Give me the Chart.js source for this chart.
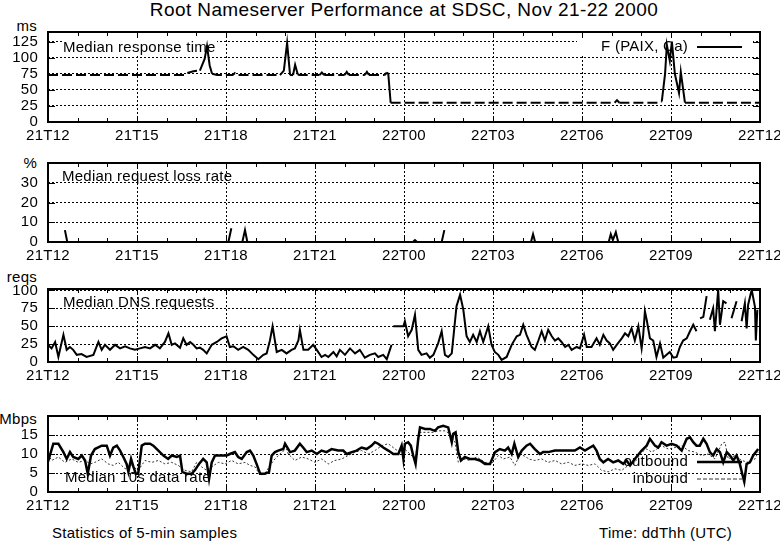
<!DOCTYPE html>
<html>
<head>
<meta charset="utf-8">
<script src="https://cdn.jsdelivr.net/npm/chart.js@4.4.0/dist/chart.umd.min.js"></script>
<style>
  body { margin: 0; background: #fff; }
  #wrap { position: relative; width: 780px; height: 542px; overflow: hidden;
          font-family: "Liberation Sans", Arial, sans-serif; color: #000; }
  canvas { position: absolute; left: 0; }
  .txt { position: absolute; white-space: nowrap; font-size: 15px; line-height: 15px; letter-spacing: 0.25px; }
</style>
</head>
<body>
<div id="wrap">
  <div class="txt" id="titulo" style="top:0px; left:404px; transform:translateX(-50%); font-size:19px; line-height:19px; letter-spacing:0.4px;">Root Nameserver Performance at SDSC, Nov 21-22 2000</div>
  <div class="txt" style="top:18px; right:743px;">ms</div>
  <div class="txt" style="top:155px; right:743px;">%</div>
  <div class="txt" style="top:269px; right:743px;">reqs</div>
  <div class="txt" style="top:411px; right:743px;">Mbps</div>
  <div class="txt" style="top:525px; left:52px;">Statistics of 5-min samples</div>
  <div class="txt" style="top:525px; right:48px;">Time: ddThh (UTC)</div>
  <canvas id="c1" width="780" height="120" style="top:22px"></canvas>
  <canvas id="c2" width="780" height="109" style="top:153px"></canvas>
  <canvas id="c3" width="780" height="103" style="top:279px"></canvas>
  <canvas id="c4" width="780" height="106" style="top:406px"></canvas>
</div>
<script>
// eje de tiempo: horas desde 21T12
const TICK_LABELS = ["21T12", "21T15", "21T18", "21T21", "22T00", "22T03", "22T06", "22T09", "22T12"];

const Y_TICKS_RESP = [0, 25, 50, 75, 100, 125];
const Y_TICKS_LOSS = [0, 10, 20, 30];
const Y_TICKS_DNS = [0, 25, 50, 75, 100];
const Y_TICKS_RATE = [0, 5, 10, 15];

// Median response time (ms)
const respT = [0, 4.60, 4.68, 4.90, 5.12, 5.28, 5.36, 5.45, 5.53, 5.70, 6.22, 6.30, 6.38, 7.82, 7.95, 8.06, 8.16, 8.26, 8.33,
  8.42, 8.49, 9.15, 9.23, 9.31, 10.00, 10.07, 10.14, 10.68, 10.75, 10.82, 11.35, 11.42, 11.47, 11.55, 19.10, 19.18,
  19.26, 20.62, 20.69, 20.80, 20.86, 20.96, 21.03, 21.13, 21.27, 21.33, 21.47, 24];
const respMs = [73, 73, 76, 79, 80, 98, 118, 88, 75, 73, 73, 76, 73, 73, 80, 123, 73, 73, 89,
  74, 73, 73, 77, 73, 73, 78, 73, 73, 78, 73, 73, 77, 75, 30, 30, 34,
  30, 30, 32, 75, 120, 95, 125, 75, 45, 78, 30, 30];

// Median request loss rate (%)
const lossT = [0, 0.50, 0.57, 0.65, 6.08, 6.18, 6.20, 6.55, 6.64, 6.72, 12.30, 12.37, 12.44, 13.27, 13.36, 13.38,
  16.28, 16.35, 16.42, 18.90, 18.97, 19.04, 19.14, 19.22, 24];
const lossPct = [0, null, 6, 0, 0, 7, null, 0, 6, 0, 0, 1, 0, 0, 6, null,
  0, 4, 0, 0, 4, 1, 5, 0, 0];

// Median DNS requests (reqs)
const dnsT = [0, 0.12, 0.24, 0.35, 0.52, 0.63, 0.74, 0.85, 0.97, 1.13, 1.30, 1.53, 1.70, 1.81, 1.92, 2.09, 2.26, 2.43,
  2.60, 2.76, 2.93, 3.10, 3.27, 3.44, 3.61, 3.77, 3.94, 4.06, 4.17, 4.28, 4.45, 4.56, 4.67, 4.79, 4.90, 5.01, 5.12,
  5.23, 5.35, 5.52, 5.69, 5.85, 6.02, 6.13, 6.25, 6.41, 6.58, 6.75, 6.92, 7.09, 7.26, 7.37, 7.48, 7.57, 7.71, 7.88,
  8.04, 8.21, 8.32, 8.44, 8.49, 8.61, 8.77, 8.94, 9.06, 9.22, 9.34, 9.45, 9.62, 9.73, 9.84, 10.01, 10.18, 10.35,
  10.51, 10.68, 10.85, 11.02, 11.13, 11.30, 11.42, 11.58, 11.61, 11.64, 11.98, 12.03, 12.14, 12.26, 12.37, 12.48,
  12.59, 12.76, 12.87, 12.99, 13.15, 13.27, 13.38, 13.49, 13.61, 13.77, 13.89, 14.00, 14.11, 14.22, 14.33, 14.45,
  14.56, 14.67, 14.84, 14.95, 15.06, 15.18, 15.29, 15.46, 15.63, 15.80, 15.91, 16.02, 16.13, 16.30, 16.41, 16.53,
  16.64, 16.75, 16.86, 16.98, 17.09, 17.20, 17.31, 17.43, 17.54, 17.65, 17.82, 17.93, 18.07, 18.16, 18.32, 18.49,
  18.60, 18.72, 18.83, 18.94, 19.05, 19.17, 19.34, 19.45, 19.56, 19.67, 19.78, 19.90, 20.01, 20.06, 20.12, 20.18,
  20.29, 20.40, 20.51, 20.63, 20.74, 20.85, 20.96, 21.08, 21.19, 21.30, 21.41, 21.53, 21.64, 21.75, 21.86, 21.92,
  21.98, 22.09, 22.20, 22.25, 22.31, 22.42, 22.48, 22.59, 22.65, 22.76, 22.87, 22.95, 23.04, 23.21, 23.30, 23.38,
  23.49, 23.55, 23.60, 23.72, 23.83, 23.86, 23.91];
const dnsReqs = [24, 19, 28, 7, 38, 17, 21, 17, 10, 11, 7, 10, 28, 17, 24, 17, 24, 19,
  22, 19, 17, 19, 21, 19, 24, 19, 28, 40, 24, 26, 20, 33, 24, 28, 24, 19, 20,
  17, 12, 24, 28, 33, 36, 21, 22, 17, 21, 17, 10, 4, 10, 12, 30, 50, 14, 17,
  12, 17, 19, 30, 45, 17, 17, 24, 17, 7, 10, 7, 14, 8, 17, 10, 19, 12,
  17, 6, 10, 12, 7, 10, 4, 24, null, 50, 50, 57, 36, 45, 66, 17,
  10, 12, 6, 10, 26, 43, 10, 7, 12, 78, 94, 73, 36, 28, 38, 28,
  43, 28, 50, 24, 14, 10, 3, 7, 24, 36, 38, 52, 38, 21, 17, 30,
  43, 30, 45, 36, 30, 33, 28, 21, 24, 17, 21, 19, 38, 21, 21, 33,
  24, 38, 30, 26, 17, 24, 33, 40, 36, 47, 30, 50, 19, 36, 71, 59,
  33, 30, 7, 26, 6, 10, 14, 6, 7, 21, 30, 33, 43, 52, 43, null,
  61, 63, 92, null, 59, 75, 43, 101, 52, 85, 82, null, 61, 85, null, 57,
  82, 47, 80, 101, 77, 30, 73];

// Median 10s data rate (Mbps)
const outT = [0, 0.18, 0.35, 0.52, 0.63, 0.74, 0.85, 1.02, 1.14, 1.25, 1.34, 1.45, 1.58, 1.81, 1.98, 2.09, 2.20, 2.32,
  2.43, 2.54, 2.65, 2.71, 2.80, 2.88, 2.96, 3.04, 3.16, 3.27, 3.44, 3.55, 3.72, 3.89, 4.05, 4.17, 4.34, 4.45, 4.53,
  4.67, 4.84, 4.95, 5.09, 5.23, 5.35, 5.43, 5.52, 5.63, 5.85, 6.02, 6.13, 6.30, 6.41, 6.53, 6.70, 6.81, 6.92, 7.03,
  7.15, 7.31, 7.45, 7.54, 7.65, 7.76, 7.93, 7.99, 8.16, 8.32, 8.49, 8.60, 8.72, 8.89, 9.06, 9.22, 9.39, 9.56, 9.78,
  9.95, 10.07, 10.24, 10.40, 10.57, 10.74, 10.91, 11.02, 11.13, 11.30, 11.47, 11.64, 11.81, 11.92, 11.98, 12.03,
  12.14, 12.23, 12.31, 12.39, 12.48, 12.54, 12.71, 12.87, 13.04, 13.15, 13.32, 13.49, 13.61, 13.66, 13.74, 13.83,
  13.92, 14.05, 14.22, 14.39, 14.56, 14.73, 14.90, 15.07, 15.23, 15.40, 15.51, 15.63, 15.72, 15.85, 15.97, 16.13,
  16.25, 16.41, 16.58, 16.69, 16.86, 17.09, 17.31, 17.54, 17.76, 17.93, 18.10, 18.27, 18.38, 18.49, 18.60, 18.72,
  18.88, 19.05, 19.22, 19.39, 19.50, 19.62, 19.78, 20.01, 20.18, 20.29, 20.46, 20.57, 20.68, 20.85, 21.02, 21.19,
  21.36, 21.53, 21.64, 21.75, 21.86, 21.97, 22.09, 22.20, 22.31, 22.42, 22.54, 22.65, 22.76, 22.88, 22.99, 23.10,
  23.21, 23.32, 23.40, 23.47, 23.55, 23.66, 23.77, 23.94];
const outMbps = [8.0, 12.7, 12.7, 10.5, 8.7, 10.5, 9.2, 8.7, 9.6, 8.3, 4.8, 9.6, 11.3, 12.2, 12.2, 9.6, 11.7, 12.2,
  10.9, 9.2, 7.4, 5.3, 8.7, 6.6, 4.8, 4.8, 12.2, 12.7, 12.7, 12.2, 10.9, 9.6, 8.7, 9.6, 9.2, 9.6, 5.3,
  4.8, 4.8, 5.7, 7.4, 8.7, 7.8, 3.5, 7.8, 9.6, 9.6, 9.6, 10.0, 10.5, 9.2, 8.7, 10.5, 10.9, 9.6, 7.4,
  4.8, 4.8, 5.3, 9.6, 10.5, 10.9, 11.3, 12.7, 10.5, 10.9, 12.7, 11.7, 10.5, 10.9, 10.0, 10.9, 10.5, 11.3, 10.9,
  10.9, 10.0, 10.5, 10.9, 11.7, 11.3, 12.2, 13.1, 12.7, 11.7, 10.9, 10.0, 10.0, 12.2, 8.7, 12.7,
  13.1, 12.2, 9.6, 7.4, 14.0, 17.0, 16.6, 16.6, 16.1, 17.0, 17.4, 17.0, 13.1, 15.3, 15.7, 10.5,
  8.3, 9.2, 8.7, 8.7, 8.3, 7.4, 7.4, 10.5, 11.3, 10.9, 11.7, 10.0, 12.7, 9.2, 10.9, 12.2,
  12.7, 11.3, 10.0, 10.5, 10.5, 10.9, 10.9, 10.9, 10.9, 11.7, 10.9, 11.7, 12.2, 10.9, 8.7, 7.8,
  8.7, 7.8, 8.3, 7.4, 8.3, 7.0, 8.7, 10.9, 12.2, 14.0, 12.2, 11.7, 13.1, 12.2, 12.7, 12.2,
  10.9, 14.0, 14.4, 13.1, 12.2, 12.2, 14.0, 12.7, 10.5, 9.6, 11.3, 10.5, 7.8, 10.5, 9.6, 8.3,
  9.6, 7.4, 4.8, 2.7, 7.4, 7.8, 9.6, 11.3];

const inT = [0, 0.12, 0.35, 0.57, 0.80, 1.02, 1.25, 1.42, 1.58, 1.81, 2.03, 2.20, 2.37, 2.60, 2.82, 3.04, 3.27, 3.50,
  3.72, 3.94, 4.17, 4.39, 4.62, 4.84, 5.01, 5.18, 5.35, 5.52, 5.74, 5.97, 6.19, 6.41, 6.64, 6.81, 6.98, 7.15, 7.31,
  7.48, 7.65, 7.88, 8.04, 8.10, 8.32, 8.55, 8.77, 9.00, 9.22, 9.45, 9.67, 9.90, 10.12, 10.35, 10.57, 10.80, 11.02,
  11.25, 11.47, 11.70, 11.86, 12.03, 12.20, 12.37, 12.54, 12.76, 12.99, 13.15, 13.38, 13.55, 13.72, 13.83, 14.00,
  14.22, 14.45, 14.73, 14.95, 15.18, 15.35, 15.57, 15.74, 15.91, 16.13, 16.19, 16.41, 16.64, 16.86, 17.09, 17.31,
  17.54, 17.76, 17.99, 18.21, 18.44, 18.66, 18.88, 19.11, 19.34, 19.56, 19.78, 20.01, 20.18, 20.35, 20.52, 20.68,
  20.91, 21.13, 21.36, 21.58, 21.81, 22.03, 22.25, 22.48, 22.71, 22.82, 22.93, 23.15, 23.38, 23.60, 23.83, 23.94];
const inMbps = [10.0, 8.3, 9.2, 7.8, 8.7, 7.8, 8.3, 7.4, 7.8, 8.7, 7.4, 7.0, 7.8, 6.1, 7.0, 5.7, 8.3, 7.8,
  8.3, 7.4, 7.8, 7.0, 5.7, 5.3, 7.8, 6.6, 5.7, 6.6, 7.8, 7.4, 8.3, 7.4, 7.8, 7.0, 6.6, 4.4, 4.8,
  7.0, 8.7, 10.5, 11.3, 10.0, 8.3, 9.2, 8.7, 7.8, 8.7, 7.4, 8.3, 8.7, 9.6, 10.5, 10.9, 10.0, 10.9,
  12.2, 12.7, 11.3, 10.5, 11.3, 10.0, 8.7, 15.7, 15.7, 15.7, 16.1, 16.1, 15.3, 13.1, 7.8, 8.7,
  8.3, 9.2, 7.8, 7.4, 9.6, 8.7, 9.2, 7.0, 10.0, 9.2, 8.7, 8.3, 8.7, 7.8, 8.3, 7.4,
  7.8, 7.0, 7.4, 7.0, 7.4, 5.7, 5.3, 6.1, 5.7, 7.0, 7.8, 10.5, 11.3, 10.5, 11.3, 12.2,
  11.3, 11.7, 12.2, 10.9, 10.5, 9.6, 10.0, 8.7, 12.7, 13.1, 8.7, 9.6, 8.3, 7.8, 8.7, 10.5];

const FONT = { family: '"Liberation Sans", Arial, sans-serif', size: 15 };
const xy = (ts, vs) => ts.map((t, i) => ({ x: t, y: vs[i] }));

// sin relleno automatico: el area de trazado queda donde la ponemos
function sinPadding(s, size) {
  if (s.isHorizontal()) s.height = size; else s.width = size;
  s.paddingLeft = 0; s.paddingRight = 0; s.paddingTop = 0; s.paddingBottom = 0;
}

// marco grueso, marcas hacia dentro, textos y leyenda dentro del area
const marco = {
  id: 'marco',
  beforeDraw(chart) {
    chart.ctx.letterSpacing = '0.25px';
  },
  beforeDatasetsDraw(chart, args, o) {
    const { ctx, chartArea: a } = chart;
    ctx.save();
    ctx.font = '15px "Liberation Sans", Arial, sans-serif';
    ctx.letterSpacing = '0.25px';
    ctx.textBaseline = 'middle';
    (o.bgBoxes || []).forEach(b => {
      ctx.fillStyle = '#fff';
      ctx.fillRect(a.left + b[0], a.top + b[1], b[2], b[3]);
    });
    ctx.fillStyle = '#000';
    ctx.textAlign = 'left';
    ctx.fillText(o.note, a.left + o.noteX, a.top + o.noteY);
    chart.data.datasets.forEach((d, i) => {
      if (!o.legendY) return;
      const y = a.top + o.legendY[i];
      ctx.textAlign = 'right';
      ctx.fillStyle = '#000';
      ctx.fillText(d.label, a.right - 72, y);
      ctx.beginPath();
      ctx.lineWidth = d.borderWidth;
      ctx.strokeStyle = d.borderColor;
      ctx.setLineDash(d.legendDash || []);
      ctx.moveTo(a.right - 63, y);
      ctx.lineTo(a.right - 18, y);
      ctx.stroke();
      ctx.setLineDash([]);
    });
    ctx.restore();
  },
  afterDraw(chart) {
    const { ctx, chartArea: a, scales } = chart;
    ctx.save();
    ctx.strokeStyle = '#000';
    ctx.lineWidth = 1;
    ctx.beginPath();
    for (let h = 0; h <= 24; h++) {
      const x = Math.round(scales.x.getPixelForValue(h)) + 0.5;
      const len = h % 3 === 0 ? 6 : 4;
      ctx.moveTo(x, a.bottom); ctx.lineTo(x, a.bottom - len);
      ctx.moveTo(x, a.top); ctx.lineTo(x, a.top + len);
    }
    scales.y.ticks.forEach(t => {
      const y = Math.round(scales.y.getPixelForValue(t.value)) + 0.5;
      ctx.moveTo(a.left, y); ctx.lineTo(a.left + 7, y);
      ctx.moveTo(a.right, y); ctx.lineTo(a.right - 7, y);
    });
    ctx.stroke();
    ctx.lineWidth = 2;
    ctx.strokeRect(a.left, a.top, a.right - a.left, a.bottom - a.top);
    ctx.restore();
  }
};

function panel(id, datasets, yMax, yTicks, textos) {
  return new Chart(document.getElementById(id), {
    type: 'line',
    data: { datasets },
    options: {
      responsive: false,
      animation: false,
      layout: { padding: { top: 10, right: 20, left: 0, bottom: 0 } },
      elements: { point: { radius: 0 }, line: { tension: 0 } },
      plugins: { legend: { display: false }, tooltip: { enabled: false }, marco: textos },
      scales: {
        x: {
          type: 'linear', min: 0, max: 24,
          afterBuildTicks: s => { s.ticks = TICK_LABELS.map((t, i) => ({ value: i * 3 })); },
          afterFit: s => sinPadding(s, 20),
          ticks: { callback: v => TICK_LABELS[v / 3], padding: 5, font: FONT, color: '#000', maxRotation: 0, autoSkip: false },
          grid: { color: '#000', lineWidth: 1, drawTicks: false },
          border: { display: false, dash: [2, 2] }
        },
        y: {
          min: 0, max: yMax,
          afterBuildTicks: s => { s.ticks = yTicks.map(v => ({ value: v })); },
          afterFit: s => sinPadding(s, 48),
          ticks: { padding: 10, font: FONT, color: '#000', autoSkip: false },
          grid: { color: '#000', lineWidth: 1, drawTicks: false },
          border: { display: false, dash: [2, 2] }
        }
      }
    },
    plugins: [marco]
  });
}

panel('c1', [{
  label: 'F (PAIX, Ca)',
  data: xy(respT, respMs),
  borderColor: '#000', borderWidth: 2,
  segment: { borderDash: c => Math.abs(c.p1.parsed.y - c.p0.parsed.y) < 4 ? [10, 4] : undefined }
}], 140, Y_TICKS_RESP, {
  note: 'Median response time', noteX: 15, noteY: 16,
  legendY: [15],
  bgBoxes: [[14, 7, 155, 16], [529, 7, 176, 16]]
});

panel('c2', [{
  label: '',
  data: xy(lossT, lossPct),
  borderColor: '#000', borderWidth: 2, spanGaps: false
}], 40, Y_TICKS_LOSS, { note: 'Median request loss rate', noteX: 14, noteY: 14 });

panel('c3', [{
  label: '',
  data: xy(dnsT, dnsReqs),
  borderColor: '#000', borderWidth: 2, spanGaps: false
}], 102, Y_TICKS_DNS, { note: 'Median DNS requests', noteX: 15, noteY: 14 });

panel('c4', [{
  label: 'outbound',
  data: xy(outT, outMbps),
  borderColor: '#000', borderWidth: 2.5
}, {
  label: 'inbound',
  data: xy(inT, inMbps),
  borderColor: '#333', borderWidth: 1, borderDash: [2, 2], legendDash: [4, 2]
}], 20, Y_TICKS_RATE, { note: 'Median 10s data rate', noteX: 17, noteY: 62, legendY: [46, 63] });
</script>
</body>
</html>
